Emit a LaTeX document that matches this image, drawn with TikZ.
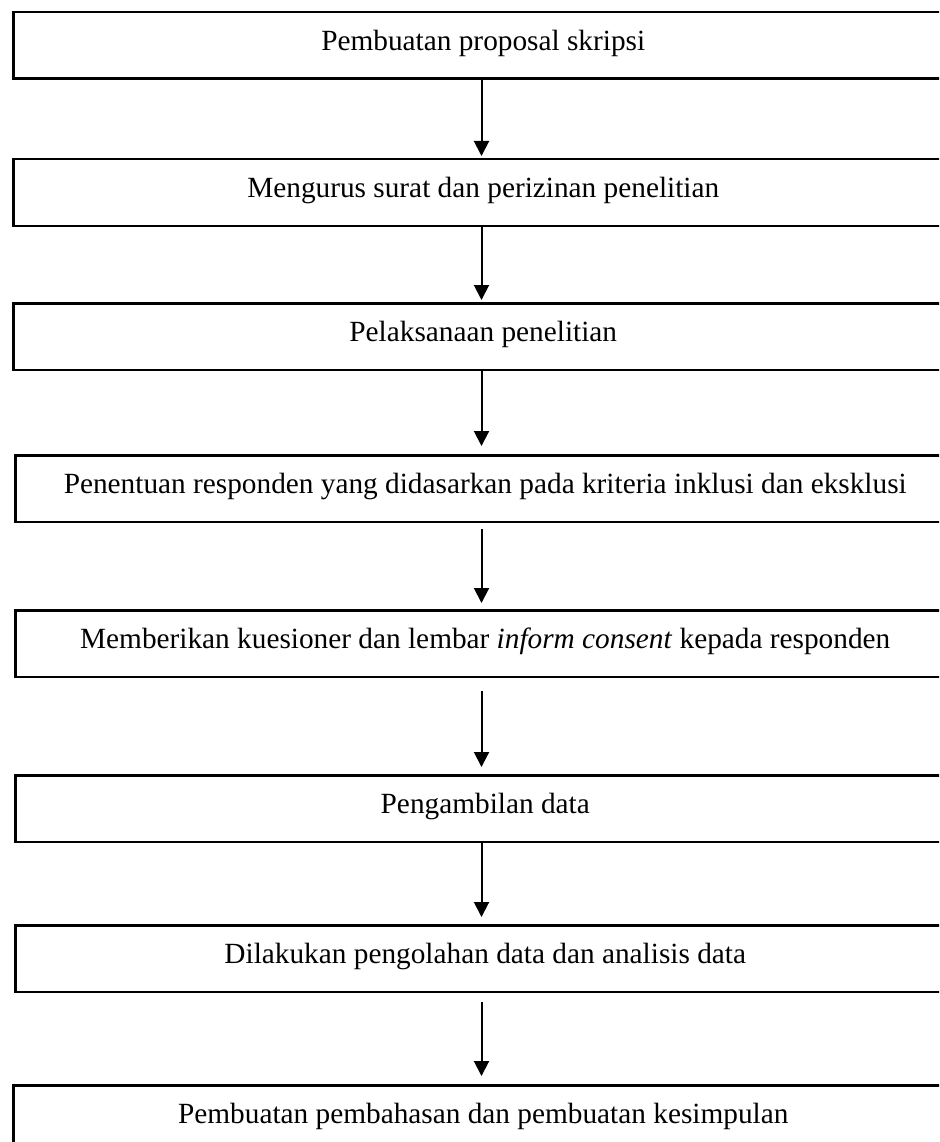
\documentclass[tikz,border=0pt]{standalone}
\usepackage{fontspec}
\setmainfont{Liberation Serif}
\usetikzlibrary{arrows.meta}
\tikzset{
  stepbox/.style={draw=black, line width=2.5pt, rectangle, anchor=north west,
    minimum width=940pt, minimum height=66.5pt, inner sep=0pt,
    text height=18pt, text depth=8.5pt, align=center,
    font=\fontsize{29.3}{35}\selectfont},
  arr/.style={draw=black, line width=2pt, -{Triangle[width=15pt,length=15pt]}}
}
\begin{document}
\begin{tikzpicture}[x=1pt,y=-1pt]
\useasboundingbox (0,0) rectangle (939,1142);
\clip (0,0) rectangle (939,1142);
\fill[white] (0,0) rectangle (939,1142);
\coordinate (ax) at (481.5,0);
\node[stepbox] (b1) at (12,11) {Pembuatan proposal skripsi};
\node[stepbox] (b2) at (12,158) {Mengurus surat dan perizinan penelitian};
\node[stepbox] (b3) at (12,302) {Pelaksanaan penelitian};
\node[stepbox] (b4) at (14,454) {Penentuan responden yang didasarkan pada kriteria inklusi dan eksklusi};
\node[stepbox] (b5) at (14,609) {Memberikan kuesioner dan lembar \textit{inform consent} kepada responden};
\node[stepbox] (b6) at (14,774) {Pengambilan data};
\node[stepbox] (b7) at (14,924) {Dilakukan pengolahan data dan analisis data};
\node[stepbox] (b8) at (12,1084) {Pembuatan pembahasan dan pembuatan kesimpulan};
\draw[arr, shorten >=2pt] (b1.south -| ax) -- (b2.north -| ax);
\draw[arr, shorten >=2pt] (b2.south -| ax) -- (b3.north -| ax);
\draw[arr, shorten >=8pt] (b3.south -| ax) -- (b4.north -| ax);
\draw[arr, shorten <=6pt, shorten >=6pt] (b4.south -| ax) -- (b5.north -| ax);
\draw[arr, shorten <=13pt, shorten >=7pt] (b5.south -| ax) -- (b6.north -| ax);
\draw[arr, shorten >=7pt] (b6.south -| ax) -- (b7.north -| ax);
\draw[arr, shorten <=9pt, shorten >=8pt] (b7.south -| ax) -- (b8.north -| ax);
\end{tikzpicture}
\end{document}
